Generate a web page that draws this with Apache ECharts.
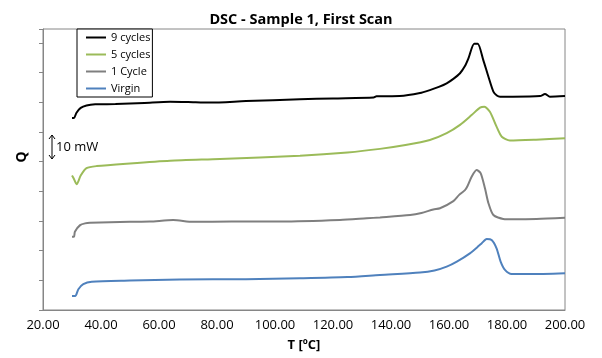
<!DOCTYPE html>
<html>
<head>
<meta charset="utf-8">
<script src="https://cdn.jsdelivr.net/npm/echarts@6/dist/echarts.min.js"></script>
<style>html,body{margin:0;padding:0;background:#fff}#c{width:602px;height:358px}</style>
</head>
<body>
<div id="c"></div>
<script>
// Temperature (°C) and heat-flow (arbitrary tick units, offset per curve)
var t9 = [30,30.7,31.5,33,35,38,45,55,63.8,70,77.6,90,108.6,120,134,135,143,150,153.4,156.5,159.2,161.5,163.8,165.5,166.7,168.7,169.9,171.8,173.6,175.3,176.5,177.6,182,191.4,193.1,194.8,200];
var q9 = [6.47,6.47,6.64,6.81,6.89,6.93,6.94,6.98,7.02,7.01,6.99,7.04,7.10,7.13,7.16,7.20,7.21,7.31,7.41,7.52,7.64,7.79,7.98,8.22,8.48,8.97,8.97,8.43,7.86,7.36,7.23,7.19,7.19,7.21,7.28,7.19,7.21];

var t5 = [30,30.5,31.6,33,35,38.5,50,63.8,81,108.6,125,136.2,145,153.4,159.2,163.8,167.8,170.7,172.2,174.1,176.4,178.2,181,190,200];
var q5 = [4.53,4.45,4.24,4.53,4.78,4.85,4.94,5.03,5.09,5.20,5.31,5.43,5.56,5.73,5.96,6.24,6.57,6.82,6.85,6.68,6.18,5.84,5.71,5.74,5.79];

var t1 = [30,30.7,31,32.8,34.5,36.2,50,56.9,64.9,71.7,85,101.7,122.4,131.6,136.2,146.6,150.5,154.6,156.9,161.5,163.5,165.5,166.3,167.8,169.5,170.9,172.4,173.6,175.3,178.7,182.2,190.2,200];
var q1 = [2.47,2.47,2.64,2.86,2.92,2.94,2.97,2.98,3.03,2.97,2.98,2.98,3.03,3.09,3.12,3.20,3.27,3.39,3.43,3.67,3.88,4.04,4.16,4.49,4.72,4.61,4.10,3.60,3.20,3.07,3.06,3.07,3.11];

var tV = [30,31.1,32.2,33.9,36.8,50,67.2,90,108.6,125,136.2,150,155,159.2,162.7,167.2,170.4,171.3,173,174.7,176.4,177.8,179.3,181.6,187.9,200];
var qV = [0.47,0.47,0.70,0.87,0.95,0.99,1.03,1.04,1.07,1.11,1.18,1.26,1.33,1.46,1.63,1.91,2.17,2.25,2.39,2.36,2.08,1.63,1.35,1.21,1.21,1.24];

var seriesNames = ['9 cycles','5 cycles','1 Cycle','Virgin'];
var seriesColors = ['#000000','#9BBB59','#7F7F7F','#4F81BD'];
var xTicks = [20,40,60,80,100,120,140,160,180,200];

function pairs(t,q){return t.map(function(v,i){return [v,q[i]];});}
var allData = [pairs(t9,q9), pairs(t5,q5), pairs(t1,q1), pairs(tV,qV)];

var chart = echarts.init(document.getElementById('c'));
chart.setOption({
  animation:false,
  backgroundColor:'#fff',
  title:{text:'DSC - Sample 1, First Scan', left:'center', top:7,
    textStyle:{fontFamily:'Open Sans', fontWeight:'bold', fontSize:14.5, color:'#000'}},
  grid:{left:43,right:37,top:29,bottom:48,show:true,borderColor:'#868686',borderWidth:1,backgroundColor:'transparent'},
  legend:{data:seriesNames, orient:'vertical', left:77, top:29, padding:[3,2,3,9], itemGap:6,
    itemWidth:20, itemHeight:2, icon:'rect', borderColor:'#000', borderWidth:1, backgroundColor:'#fff',
    textStyle:{fontFamily:'Open Sans', fontSize:11, color:'#000'}},
  xAxis:{type:'value', min:20, max:200, interval:20,
    name:'T [ºC]', nameLocation:'middle', nameGap:29,
    nameTextStyle:{fontFamily:'Open Sans', fontWeight:'bold', fontSize:13, color:'#000'},
    axisLine:{show:true,lineStyle:{color:'#868686'}}, axisTick:{show:false},
    splitLine:{show:false},
    axisLabel:{fontFamily:'Open Sans', fontSize:13, color:'#000', margin:9,
      formatter:function(v){return v.toFixed(2);}}},
  yAxis:{type:'value', min:0, max:9.47, interval:1,
    axisLine:{show:true,lineStyle:{color:'#868686'}},
    axisTick:{show:true,length:4,lineStyle:{color:'#868686'}},
    axisLabel:{show:false}, splitLine:{show:false}},
  graphic:[
    {type:'text', x:22, y:157, rotation:Math.PI/2, style:{text:'Q', font:'bold 14px "Open Sans"', fill:'#000', textAlign:'center', textVerticalAlign:'middle'}},
    {type:'text', x:56, y:147, style:{text:'10 mW', font:'13px "Open Sans"', fill:'#000', textAlign:'left', textVerticalAlign:'middle'}},
    {type:'line', shape:{x1:52,y1:135,x2:52,y2:159}, style:{stroke:'#000',lineWidth:1}},
    {type:'polyline', shape:{points:[[49,139],[52,135],[55,139]]}, style:{stroke:'#000',lineWidth:1,fill:null}},
    {type:'polyline', shape:{points:[[49,155],[52,159],[55,155]]}, style:{stroke:'#000',lineWidth:1,fill:null}}
  ],
  series: seriesNames.map(function(n,i){
    return {name:n, type:'line', data:allData[i], showSymbol:false, symbol:'none', smooth:0.25,
      lineStyle:{color:seriesColors[i], width:2}, itemStyle:{color:seriesColors[i]}, z:2};
  })
});
</script>
</body>
</html>
